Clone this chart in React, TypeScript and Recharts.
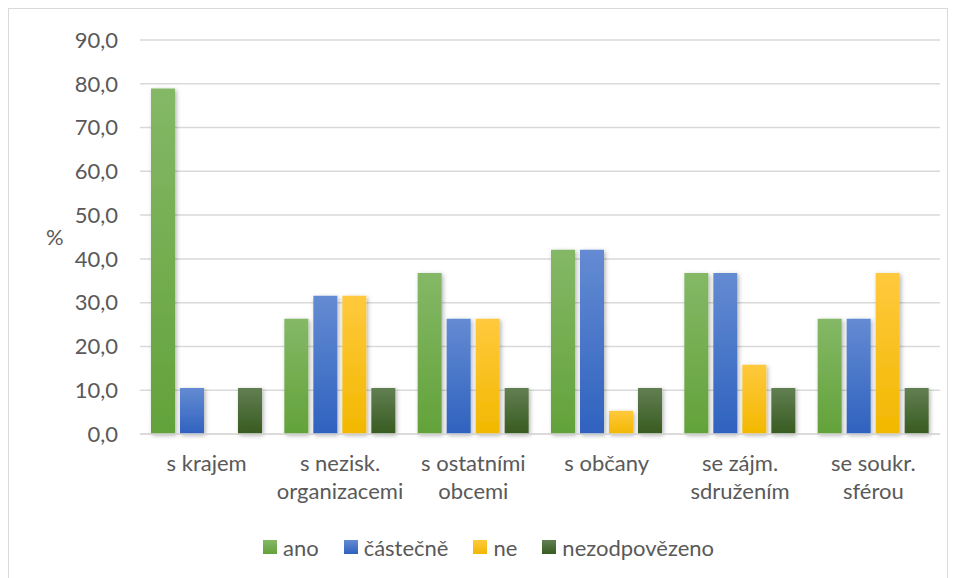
import React from "react";
import { Bar, BarChart, CartesianGrid, XAxis, YAxis, Legend } from "recharts";

const categories = [
  "s krajem",
  "s nezisk.\norganizacemi",
  "s ostatními\nobcemi",
  "s občany",
  "se zájm.\nsdružením",
  "se soukr.\nsférou",
];
const ano = [78.9, 26.3, 36.8, 42.1, 36.8, 26.3];
const castecne = [10.5, 31.6, 26.3, 42.1, 36.8, 26.3];
const ne = [0, 31.6, 26.3, 5.3, 15.8, 36.8];
const nezodpovezeno = [10.5, 10.5, 10.5, 10.5, 10.5, 10.5];
const yTicks = [0, 10, 20, 30, 40, 50, 60, 70, 80, 90];

const series = [
  { key: "ano", name: "ano", top: "#84b866", bottom: "#63a23a" },
  { key: "castecne", name: "částečně", top: "#648bd2", bottom: "#2f62bf" },
  { key: "ne", name: "ne", top: "#ffc93d", bottom: "#f2b800" },
  { key: "nezodpovezeno", name: "nezodpovězeno", top: "#627f52", bottom: "#375b20" },
];

const data = categories.map((c, i) => ({
  name: c,
  ano: ano[i],
  castecne: castecne[i],
  ne: ne[i],
  nezodpovezeno: nezodpovezeno[i],
}));

const FONT = "Lato, 'Noto Sans', sans-serif";
const FS = 22;

const CatTick = (props: any) => {
  const { x, y, payload } = props;
  const lines = String(payload.value).split("\n");
  return (
    <text x={x} y={y} textAnchor="middle" fill="#595959" fontSize={FS} fontFamily={FONT}>
      {lines.map((l, i) => (
        <tspan key={i} x={x} dy={i === 0 ? 29 : 28}>
          {l}
        </tspan>
      ))}
    </text>
  );
};

const LegendContent = () => (
  <div style={{ display: "flex", justifyContent: "center", gap: 25, paddingLeft: 28, fontFamily: FONT, fontSize: FS, color: "#595959", height: 30, alignItems: "center" }}>
    {series.map((s) => (
      <div key={s.key} style={{ display: "flex", alignItems: "center" }}>
        <span
          style={{
            display: "inline-block",
            width: 14,
            height: 14,
            marginRight: 6,
            background: `linear-gradient(${s.top}, ${s.bottom})`,
          }}
        />
        {s.name}
      </div>
    ))}
  </div>
);

export default function App() {
  return (
    <div style={{ width: 938, height: 580, border: "1px solid #d9d9d9", background: "#fff", overflow: "hidden" }}>
      <BarChart
        width={938}
        height={580}
        data={data}
        margin={{ top: 31, right: 7, left: 0, bottom: 10 }}
        barCategoryGap={11}
        barGap={5}
      >
        <defs>
          {series.map((s) => (
            <linearGradient key={s.key} id={`g-${s.key}`} x1="0" y1="0" x2="0" y2="1">
              <stop offset="0%" stopColor={s.top} />
              <stop offset="100%" stopColor={s.bottom} />
            </linearGradient>
          ))}
          <filter id="shadow" x="-30%" y="-10%" width="160%" height="130%">
            <feDropShadow dx="1.5" dy="1.5" stdDeviation="2" floodColor="#000" floodOpacity="0.3" />
          </filter>
        </defs>
        <CartesianGrid vertical={false} stroke="#d9d9d9" strokeWidth={1.5} />
        <XAxis
          dataKey="name"
          tick={<CatTick />}
          tickLine={false}
          axisLine={{ stroke: "#d9d9d9", strokeWidth: 1.5 }}
          interval={0}
          height={115}
        />
        <YAxis
          domain={[0, 90]}
          ticks={yTicks}
          width={131}
          tickLine={false}
          axisLine={false}
          tickMargin={16}
          tickFormatter={(v: number) => v.toFixed(1).replace(".", ",")}
          tick={{ fill: "#595959", fontSize: FS, fontFamily: FONT }}
          label={{ value: "%", position: "insideLeft", offset: 37, fill: "#595959", fontSize: FS, fontFamily: FONT }}
        />
        <Legend verticalAlign="bottom" content={<LegendContent />} wrapperStyle={{ bottom: 27 }} />
        {series.map((s) => (
          <Bar
            key={s.key}
            dataKey={s.key}
            name={s.name}
            fill={`url(#g-${s.key})`}
            filter="url(#shadow)"
            isAnimationActive={false}
          />
        ))}
      </BarChart>
    </div>
  );
}
